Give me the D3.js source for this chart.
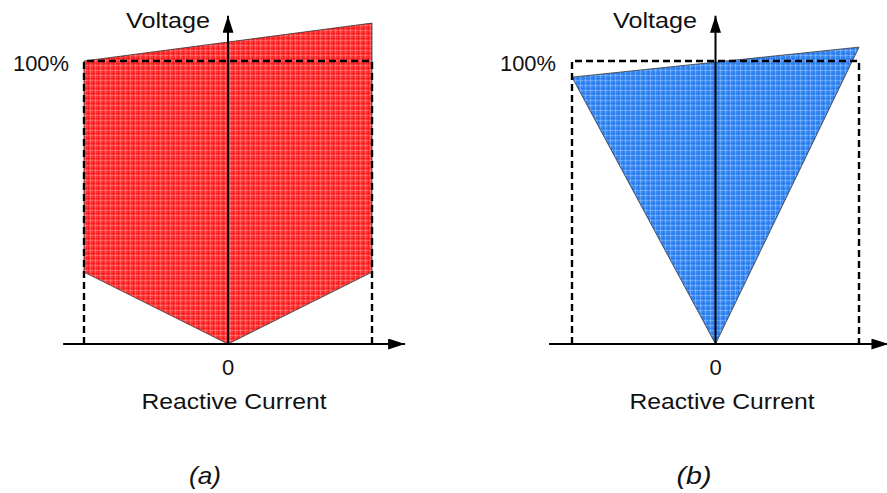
<!DOCTYPE html>
<html>
<head>
<meta charset="utf-8">
<script src="https://cdn.jsdelivr.net/npm/d3@7"></script>
<style>
  body { margin: 0; background: #fff; }
  text { font-family: "Liberation Sans", Arial, sans-serif; fill: #111; }
</style>
</head>
<body>
<div id="chart"></div>
<script>
// panel labels
var panelNames = ["(a)", "(b)"];

// region (a): reactive current (p.u. of limit) vs voltage (p.u.)
var redCurrent = [-1, 1, 1, 0, -1];
var redVoltage = [1.0, 1.134, 0.254, 0, 0.254];

// region (b)
var blueCurrent = [-1, 1, 0];
var blueVoltage = [0.943, 1.049, 0];

// tick labels
var xTickLabel = "0";
var yTickLabel = "100%";

var width = 887, height = 493;

var svg = d3.select("#chart")
    .append("svg")
    .attr("width", width)
    .attr("height", height);

var defs = svg.append("defs");

// grid texture fill, like the original hatch
function makePattern(id, base, light, dark) {
    var p = defs.append("pattern")
        .attr("id", id)
        .attr("patternUnits", "userSpaceOnUse")
        .attr("width", 5)
        .attr("height", 5);
    p.append("rect").attr("width", 5).attr("height", 5).attr("fill", base);
    p.append("rect").attr("x", 0).attr("width", 1).attr("height", 5).attr("fill", light).attr("opacity", 0.5);
    p.append("rect").attr("y", 0).attr("width", 5).attr("height", 1).attr("fill", light).attr("opacity", 0.5);
    p.append("rect").attr("x", 3).attr("width", 1).attr("height", 5).attr("fill", dark).attr("opacity", 0.35);
    p.append("rect").attr("y", 3).attr("width", 5).attr("height", 1).attr("fill", dark).attr("opacity", 0.35);
}
makePattern("redFill", "#ff3434", "#ff9090", "#f00000");
makePattern("blueFill", "#3a8af5", "#9cc8ff", "#1a66e0");

// arrow heads
defs.append("marker")
    .attr("id", "arrow")
    .attr("viewBox", "0 0 17 11")
    .attr("refX", 17)
    .attr("refY", 5.5)
    .attr("markerWidth", 17)
    .attr("markerHeight", 11)
    .attr("markerUnits", "userSpaceOnUse")
    .attr("orient", "auto")
    .append("path")
    .attr("d", "M0,0 L17,5.5 L0,11 Z")
    .attr("fill", "#000");

var panels = [
    {name: panelNames[0], left: 84, right: 372, cur: redCurrent, volt: redVoltage, fill: "url(#redFill)",
     xAxisFrom: -1.145, xAxisTo: 1.23, labelX: 234, nameX: 205, voltX: 168, pctX: 41, nameLen: 32},
    {name: panelNames[1], left: 572, right: 859, cur: blueCurrent, volt: blueVoltage, fill: "url(#blueFill)",
     xAxisFrom: -1.16, xAxisTo: 1.205, labelX: 722, nameX: 694, voltX: 655, pctX: 528, nameLen: 35}
];

var yTop = 61, yZero = 344, yAxisTo = 1.16;

panels.forEach(function(p) {
    var x = d3.scaleLinear().domain([-1, 1]).range([p.left, p.right]);
    var y = d3.scaleLinear().domain([0, 1]).range([yZero, yTop]);
    var g = svg.append("g");

    var pts = p.cur.map(function(c, i) { return [x(c), y(p.volt[i])]; });

    // operating region
    g.append("path")
        .attr("d", d3.line()(pts) + "Z")
        .attr("fill", p.fill)
        .attr("stroke", "#333")
        .attr("stroke-width", 0.8);

    // dashed 100% box
    g.append("path")
        .attr("d", d3.line()([[x(-1), y(0)], [x(-1), y(1)], [x(1), y(1)], [x(1), y(0)]]))
        .attr("fill", "none")
        .attr("stroke", "#000")
        .attr("stroke-width", 2.4)
        .attr("stroke-dasharray", "7,4");

    // x axis
    g.append("line")
        .attr("x1", x(p.xAxisFrom)).attr("y1", y(0))
        .attr("x2", x(p.xAxisTo)).attr("y2", y(0))
        .attr("stroke", "#000")
        .attr("stroke-width", 2)
        .attr("marker-end", "url(#arrow)");

    // y axis
    g.append("line")
        .attr("x1", x(0)).attr("y1", y(0))
        .attr("x2", x(0)).attr("y2", y(yAxisTo))
        .attr("stroke", "#000")
        .attr("stroke-width", 2)
        .attr("marker-end", "url(#arrow)");

    // texts
    g.append("text")
        .attr("x", x(0)).attr("y", 375)
        .attr("text-anchor", "middle")
        .attr("font-size", 22)
        .text(xTickLabel);

    g.append("text")
        .attr("x", p.labelX).attr("y", 409)
        .attr("text-anchor", "middle")
        .attr("font-size", 22)
        .attr("textLength", 185)
        .attr("lengthAdjust", "spacingAndGlyphs")
        .text("Reactive Current");

    g.append("text")
        .attr("x", p.voltX).attr("y", 28)
        .attr("text-anchor", "middle")
        .attr("font-size", 22)
        .attr("textLength", 84)
        .attr("lengthAdjust", "spacingAndGlyphs")
        .text("Voltage");

    g.append("text")
        .attr("x", p.pctX).attr("y", 71)
        .attr("text-anchor", "middle")
        .attr("font-size", 22)
        .attr("textLength", 56)
        .attr("lengthAdjust", "spacingAndGlyphs")
        .text(yTickLabel);

    g.append("text")
        .attr("x", p.nameX).attr("y", 484)
        .attr("text-anchor", "middle")
        .attr("font-size", 24)
        .attr("font-style", "italic")
        .attr("textLength", p.nameLen)
        .attr("lengthAdjust", "spacingAndGlyphs")
        .text(p.name);
});
</script>
</body>
</html>
